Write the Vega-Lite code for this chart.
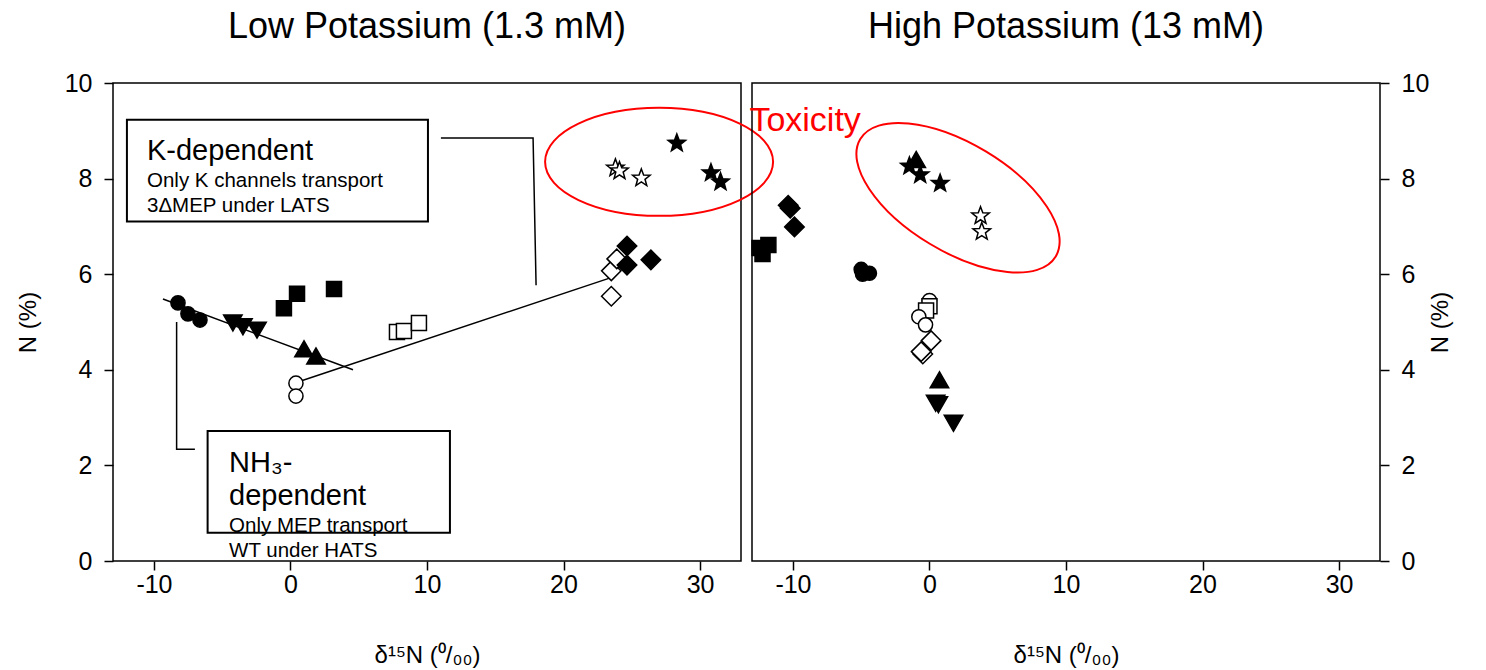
{
  "$schema": "https://vega.github.io/schema/vega-lite/v6.json",
  "padding": {"left": 15, "top": 8, "right": 8, "bottom": 4},
  "config": {
    "font": "Liberation Sans",
    "view": {"stroke": "black", "strokeWidth": 1.5},
    "axis": {"grid": false, "domain": false, "tickColor": "black", "tickWidth": 1.5, "tickSize": 9, "labelColor": "black", "labelFontSize": 25, "titleFontSize": 24, "titleFontWeight": "normal", "titleColor": "black", "labelFont": "Liberation Sans", "titleFont": "Liberation Sans"},
    "title": {"fontSize": 36, "fontWeight": "normal", "color": "black", "font": "Liberation Sans", "offset": 25}
  },
  "datasets": {
    "ptsL": [
      {"x": -8.24, "y": 5.40, "m": "circle", "f": "filled"},
      {"x": -7.51, "y": 5.17, "m": "circle", "f": "filled"},
      {"x": -6.63, "y": 5.04, "m": "circle", "f": "filled"},
      {"x": -4.22, "y": 4.98, "m": "tdown", "f": "filled"},
      {"x": -3.48, "y": 4.90, "m": "tdown", "f": "filled"},
      {"x": -2.45, "y": 4.83, "m": "tdown", "f": "filled"},
      {"x": 0.99, "y": 4.44, "m": "tup", "f": "filled"},
      {"x": 1.87, "y": 4.29, "m": "tup", "f": "filled"},
      {"x": -0.48, "y": 5.29, "m": "square", "f": "filled"},
      {"x": 0.48, "y": 5.59, "m": "square", "f": "filled"},
      {"x": 3.19, "y": 5.69, "m": "square", "f": "filled"},
      {"x": 7.80, "y": 4.79, "m": "square", "f": "open"},
      {"x": 8.31, "y": 4.81, "m": "square", "f": "open"},
      {"x": 9.41, "y": 4.98, "m": "square", "f": "open"},
      {"x": 0.40, "y": 3.72, "m": "circle", "f": "open"},
      {"x": 0.40, "y": 3.45, "m": "circle", "f": "open"},
      {"x": 23.5, "y": 5.54, "m": "diamond", "f": "open"},
      {"x": 23.5, "y": 6.07, "m": "diamond", "f": "open"},
      {"x": 23.9, "y": 6.32, "m": "diamond", "f": "open"},
      {"x": 24.65, "y": 6.59, "m": "diamond", "f": "filled"},
      {"x": 24.65, "y": 6.19, "m": "diamond", "f": "filled"},
      {"x": 26.4, "y": 6.30, "m": "diamond", "f": "filled"},
      {"x": 23.8, "y": 8.22, "m": "star", "f": "open"},
      {"x": 24.1, "y": 8.16, "m": "star", "f": "open"},
      {"x": 25.7, "y": 8.01, "m": "star", "f": "open"},
      {"x": 28.3, "y": 8.74, "m": "star", "f": "filled"},
      {"x": 30.8, "y": 8.12, "m": "star", "f": "filled"},
      {"x": 31.5, "y": 7.93, "m": "star", "f": "filled"}
    ],
    "ptsH": [
      {"x": -12.45, "y": 6.55, "m": "square", "f": "filled"},
      {"x": -11.8, "y": 6.61, "m": "square", "f": "filled"},
      {"x": -12.23, "y": 6.42, "m": "square", "f": "filled"},
      {"x": -10.35, "y": 7.44, "m": "diamond", "f": "filled"},
      {"x": -10.2, "y": 7.38, "m": "diamond", "f": "filled"},
      {"x": -9.89, "y": 6.99, "m": "diamond", "f": "filled"},
      {"x": -5.0, "y": 6.10, "m": "circle", "f": "filled"},
      {"x": -4.9, "y": 6.00, "m": "circle", "f": "filled"},
      {"x": -4.4, "y": 6.02, "m": "circle", "f": "filled"},
      {"x": -1.47, "y": 8.26, "m": "star", "f": "filled"},
      {"x": -0.68, "y": 8.08, "m": "star", "f": "filled"},
      {"x": 0.78, "y": 7.90, "m": "star", "f": "filled"},
      {"x": -0.97, "y": 8.40, "m": "tup", "f": "filled"},
      {"x": 3.74, "y": 7.22, "m": "star", "f": "open"},
      {"x": 3.83, "y": 6.89, "m": "star", "f": "open"},
      {"x": 0.0, "y": 5.45, "m": "circle", "f": "open"},
      {"x": 0.0, "y": 5.33, "m": "square", "f": "open"},
      {"x": -0.25, "y": 5.24, "m": "square", "f": "open"},
      {"x": -0.78, "y": 5.11, "m": "circle", "f": "open"},
      {"x": -0.29, "y": 4.94, "m": "circle", "f": "open"},
      {"x": 0.12, "y": 4.61, "m": "diamond", "f": "open"},
      {"x": -0.49, "y": 4.33, "m": "diamond", "f": "open"},
      {"x": -0.61, "y": 4.38, "m": "diamond", "f": "open"},
      {"x": 0.73, "y": 3.79, "m": "tup", "f": "filled"},
      {"x": 0.45, "y": 3.30, "m": "tdown", "f": "filled"},
      {"x": 0.65, "y": 3.27, "m": "tdown", "f": "filled"},
      {"x": 1.76, "y": 2.88, "m": "tdown", "f": "filled"}
    ],
    "segsL": [
      {"id": "reg1", "o": 1, "x": -9.34, "y": 5.48},
      {"id": "reg1", "o": 2, "x": 4.58, "y": 4.00},
      {"id": "reg2", "o": 1, "x": 0.48, "y": 3.74},
      {"id": "reg2", "o": 2, "x": 23.7, "y": 5.95},
      {"id": "kconn", "o": 1, "x": 11.02, "y": 8.85},
      {"id": "kconn", "o": 2, "x": 17.77, "y": 8.85},
      {"id": "kconn", "o": 3, "x": 17.99, "y": 5.77},
      {"id": "nconn", "o": 1, "x": -8.34, "y": 5.0},
      {"id": "nconn", "o": 2, "x": -8.34, "y": 2.34},
      {"id": "nconn", "o": 3, "x": -7.0, "y": 2.34}
    ],
    "boxesL": [
      {"x": -11.98, "x2": 10.07, "y": 9.23, "y2": 7.10},
      {"x": -6.07, "x2": 11.68, "y": 2.72, "y2": 0.59}
    ],
    "textL": [
      {"x": -10.51, "y": 8.39, "t": "K-dependent", "k": "head"},
      {"x": -10.51, "y": 7.82, "t": "Only K channels transport", "k": "body"},
      {"x": -10.51, "y": 7.30, "t": "3ΔMEP under LATS", "k": "body"},
      {"x": -4.5, "y": 1.87, "t": "NH₃-", "k": "head"},
      {"x": -4.5, "y": 1.17, "t": "dependent", "k": "head"},
      {"x": -4.5, "y": 0.61, "t": "Only MEP transport", "k": "body"},
      {"x": -4.5, "y": 0.08, "t": "WT under HATS", "k": "body"}
    ],
    "ellL": [{"x": 27.0, "y": 8.35}],
    "ellH": [{"x": 2.09, "y": 7.60}],
    "textH": [{"x": -13.19, "y": 9.0, "t": "Toxicity"}]
  },
  "bounds": "flush",
  "spacing": 11,
  "hconcat": [
    {
      "width": 628,
      "height": 478,
      "title": "Low Potassium (1.3 mM)",
      "encoding": {
        "x": {"field": "x", "type": "quantitative", "scale": {"domain": [-13, 33], "nice": false, "zero": false}, "axis": {"values": [-10, 0, 10, 20, 30], "title": "δ¹⁵N (⁰/₀₀)", "titlePadding": 46, "labelPadding": 2, "labelExpr": "replace(datum.label, '−', '-')"}},
        "y": {"field": "y", "type": "quantitative", "scale": {"domain": [0, 10], "nice": false, "zero": false}, "axis": {"values": [0, 2, 4, 6, 8, 10], "title": "N (%)", "orient": "left", "labelPadding": 12, "titlePadding": 24}}
      },
      "layer": [
        {"data": {"name": "boxesL"}, "mark": {"type": "rect", "fill": "white", "fillOpacity": 0, "stroke": "black", "strokeWidth": 2}, "encoding": {"x2": {"field": "x2"}, "y2": {"field": "y2"}}},
        {"data": {"name": "segsL"}, "mark": {"type": "line", "color": "black", "strokeWidth": 1.5}, "encoding": {"detail": {"field": "id"}, "order": {"field": "o", "type": "quantitative"}}},
        {"data": {"name": "textL"}, "transform": [{"filter": "datum.k == 'head'"}], "mark": {"type": "text", "align": "left", "baseline": "alphabetic", "fontSize": 29, "color": "black"}, "encoding": {"text": {"field": "t"}}},
        {"data": {"name": "textL"}, "transform": [{"filter": "datum.k == 'body'"}], "mark": {"type": "text", "align": "left", "baseline": "alphabetic", "fontSize": 20.5, "color": "black"}, "encoding": {"text": {"field": "t"}}},
        {"data": {"name": "ptsL"}, "mark": {"type": "point", "stroke": "black", "strokeWidth": 1.5, "opacity": 1, "fillOpacity": 1, "filled": true},
          "encoding": {
            "shape": {"field": "m", "type": "nominal", "scale": {"domain": ["circle", "square", "tup", "tdown", "diamond", "star"], "range": ["circle", "square", "triangle-up", "triangle-down", "diamond", "M0,-1L0.247,-0.34L0.951,-0.309L0.399,0.13L0.588,0.809L0,0.42L-0.588,0.809L-0.399,0.13L-0.951,-0.309L-0.247,-0.34Z"]}, "legend": null},
            "size": {"field": "m", "type": "nominal", "scale": {"type": "ordinal", "domain": ["circle", "square", "tup", "tdown", "diamond", "star"], "range": [200, 225, 340, 340, 380, 340]}, "legend": null},
            "fill": {"field": "f", "type": "nominal", "scale": {"domain": ["filled", "open"], "range": ["black", "white"]}, "legend": null}
          }},
        {"data": {"name": "ellL"}, "mark": {"type": "point", "shape": "M -114 0 C -114 -29.82 -62.96 -54 0 -54 C 62.96 -54 114 -29.82 114 0 C 114 29.82 62.96 54 0 54 C -62.96 54 -114 29.82 -114 0 Z", "size": 4, "filled": false, "stroke": "red", "strokeWidth": 2, "opacity": 1}}
      ]
    },
    {
      "width": 628,
      "height": 478,
      "title": "High Potassium (13 mM)",
      "encoding": {
        "x": {"field": "x", "type": "quantitative", "scale": {"domain": [-13, 33], "nice": false, "zero": false}, "axis": {"values": [-10, 0, 10, 20, 30], "title": "δ¹⁵N (⁰/₀₀)", "titlePadding": 46, "labelPadding": 2, "labelExpr": "replace(datum.label, '−', '-')"}},
        "y": {"field": "y", "type": "quantitative", "scale": {"domain": [0, 10], "nice": false, "zero": false}, "axis": {"values": [0, 2, 4, 6, 8, 10], "title": "N (%)", "orient": "right", "labelPadding": 12, "titlePadding": 24, "titleAngle": 270}}
      },
      "layer": [
        {"data": {"name": "ptsH"}, "mark": {"type": "point", "stroke": "black", "strokeWidth": 1.5, "opacity": 1, "fillOpacity": 1, "filled": true},
          "encoding": {
            "shape": {"field": "m", "type": "nominal", "scale": {"domain": ["circle", "square", "tup", "tdown", "diamond", "star"], "range": ["circle", "square", "triangle-up", "triangle-down", "diamond", "M0,-1L0.247,-0.34L0.951,-0.309L0.399,0.13L0.588,0.809L0,0.42L-0.588,0.809L-0.399,0.13L-0.951,-0.309L-0.247,-0.34Z"]}, "legend": null},
            "size": {"field": "m", "type": "nominal", "scale": {"type": "ordinal", "domain": ["circle", "square", "tup", "tdown", "diamond", "star"], "range": [200, 225, 340, 340, 380, 340]}, "legend": null},
            "fill": {"field": "f", "type": "nominal", "scale": {"domain": ["filled", "open"], "range": ["black", "white"]}, "legend": null}
          }},
        {"data": {"name": "ellH"}, "mark": {"type": "point", "shape": "M -114 0 C -114 -29.82 -62.96 -54 0 -54 C 62.96 -54 114 -29.82 114 0 C 114 29.82 62.96 54 0 54 C -62.96 54 -114 29.82 -114 0 Z", "size": 4, "angle": 31, "filled": false, "stroke": "red", "strokeWidth": 2, "opacity": 1}},
        {"data": {"name": "textH"}, "mark": {"type": "text", "align": "left", "baseline": "alphabetic", "fontSize": 34, "color": "red"}, "encoding": {"text": {"field": "t"}}}
      ]
    }
  ]
}
